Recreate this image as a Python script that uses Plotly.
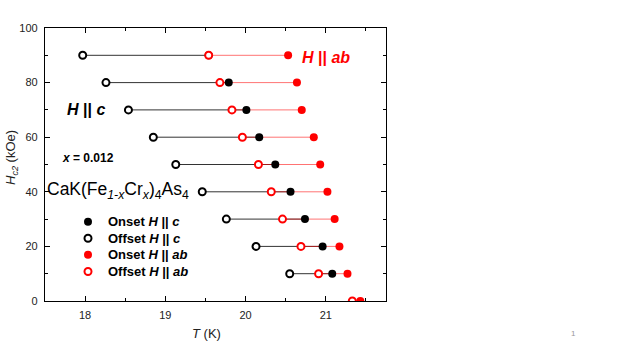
import plotly.graph_objects as go

# Upper critical field vs temperature, CaK(Fe1-xCrx)4As4, x = 0.012
H = [90, 80, 70, 60, 50, 40, 30, 20, 10, 0]
offset_c = [17.97, 18.26, 18.54, 18.85, 19.13, 19.46, 19.76, 20.13, 20.55, None]
onset_c = [19.54, 19.79, 20.01, 20.17, 20.37, 20.56, 20.74, 20.96, 21.08, None]
offset_ab = [19.54, 19.68, 19.83, 19.96, 20.16, 20.32, 20.46, 20.69, 20.91, 21.33]
onset_ab = [20.53, 20.64, 20.70, 20.85, 20.93, 21.02, 21.11, 21.17, 21.27, 21.43]

legend_labels = ["Onset <i>H</i> || <i>c</i>", "Offset <i>H</i> || <i>c</i>",
                 "Onset <i>H</i> || <i>ab</i>", "Offset <i>H</i> || <i>ab</i>"]

FONT = "Liberation Sans, Arial, sans-serif"

styles = [
    dict(symbol="circle", size=8, color="black"),
    dict(symbol="circle", size=7, color="white", line=dict(color="black", width=2)),
    dict(symbol="circle", size=8, color="red"),
    dict(symbol="circle", size=7, color="white", line=dict(color="red", width=2)),
]


def segments(x0, x1, y):
    xs, ys = [], []
    for a, b, h in zip(x0, x1, y):
        if a is None or b is None:
            continue
        xs += [a, b, None]
        ys += [h, h, None]
    return xs, ys


fig = go.Figure()

xs, ys = segments(offset_c, onset_c, H)
fig.add_trace(go.Scatter(x=xs, y=ys, mode="lines", line=dict(color="#333333", width=1),
                         hoverinfo="skip"))
xs, ys = segments(offset_ab, onset_ab, H)
fig.add_trace(go.Scatter(x=xs, y=ys, mode="lines", line=dict(color="rgba(255,0,0,0.55)", width=1),
                         hoverinfo="skip"))

for xv, st in zip([onset_c, offset_c, onset_ab, offset_ab], styles):
    fig.add_trace(go.Scatter(x=xv, y=H, mode="markers", marker=st))

# hand-made legend on a helper axis pair (one row per entry)
for i, st in enumerate(styles):
    fig.add_trace(go.Scatter(x=[0], y=[-i], mode="markers", marker=st,
                             xaxis="x2", yaxis="y2", hoverinfo="skip"))

axis_common = dict(showline=True, linecolor="black", linewidth=1.2, mirror="allticks",
                   ticks="inside", ticklen=5, tickcolor="black", showgrid=False,
                   zeroline=False, ticklabelstandoff=4,
                   tickfont=dict(family=FONT, size=11, color="#222"),
                   minor=dict(ticks="inside", ticklen=3, tickcolor="black"))

annotations = [
    dict(x=20.675, y=89.3, xref="x", yref="y", text="<b><i>H</i> || <i>ab</i></b>",
         showarrow=False, xanchor="left", font=dict(size=16, color="red", family=FONT)),
    dict(x=17.75, y=70, xref="x", yref="y", text="<b><i>H</i> || <i>c</i></b>",
         showarrow=False, xanchor="left", font=dict(size=16, color="black", family=FONT)),
    dict(x=17.69, y=52.4, xref="x", yref="y", text="<b><i>x</i> = 0.012</b>",
         showarrow=False, xanchor="left", font=dict(size=12, color="black", family=FONT)),
    dict(x=17.505, y=40.5, xref="x", yref="y",
         text="CaK(Fe<sub><i>1-x</i></sub>Cr<sub><i>x</i></sub>)<sub>4</sub>As<sub>4</sub>",
         showarrow=False, xanchor="left", font=dict(size=17.5, color="black", family=FONT)),
    dict(x=-(45 - 11) / 341, y=(301 - 158) / 273, xref="paper", yref="paper", textangle=-90,
         xanchor="center", yanchor="middle",
         text="<i>H</i><sub><i>c2</i></sub> (kOe)", showarrow=False,
         font=dict(size=13, color="#222", family=FONT)),
    dict(x=(206 - 45) / 341, y=-(333 - 301) / 273, xref="paper", yref="paper",
         xanchor="center", yanchor="middle", text="<i>T</i> (K)", showarrow=False,
         font=dict(size=13, color="#222", family=FONT)),
    dict(x=(573 - 45) / 341, y=-(333 - 301) / 273, xref="paper", yref="paper",
         xanchor="center", yanchor="middle", text="1", showarrow=False,
         font=dict(size=8, color="#999", family=FONT)),
]
for i, lab in enumerate(legend_labels):
    annotations.append(dict(x=18, y=-i, xref="x2", yref="y2", text="<b>" + lab + "</b>",
                            showarrow=False, xanchor="left", yanchor="middle",
                            font=dict(size=13, color="black", family=FONT)))

fig.update_layout(
    width=623, height=350,
    margin=dict(l=45, r=237, t=28, b=49),
    paper_bgcolor="white", plot_bgcolor="white",
    font=dict(family=FONT, color="black"),
    showlegend=False,
    xaxis=dict(range=[17.5, 21.75], tickvals=[18, 19, 20, 21],
               minor_dtick=0.5, minor_tick0=17.5, **axis_common),
    yaxis=dict(range=[0, 100], tickvals=[0, 20, 40, 60, 80, 100],
               minor_dtick=10, minor_tick0=0, **axis_common),
    # helper axes: pixel-like units, entry rows 16.6 px apart
    xaxis2=dict(domain=[0, 1], range=[-43, 298], visible=False, anchor="y2", overlaying="x"),
    yaxis2=dict(domain=[0, 1], range=[-4.78, 11.67], visible=False, anchor="x2", overlaying="y"),
    annotations=annotations,
)

fig.write_html("out.html", config={"displayModeBar": False},
               post_script="document.body.style.margin='0px';")
